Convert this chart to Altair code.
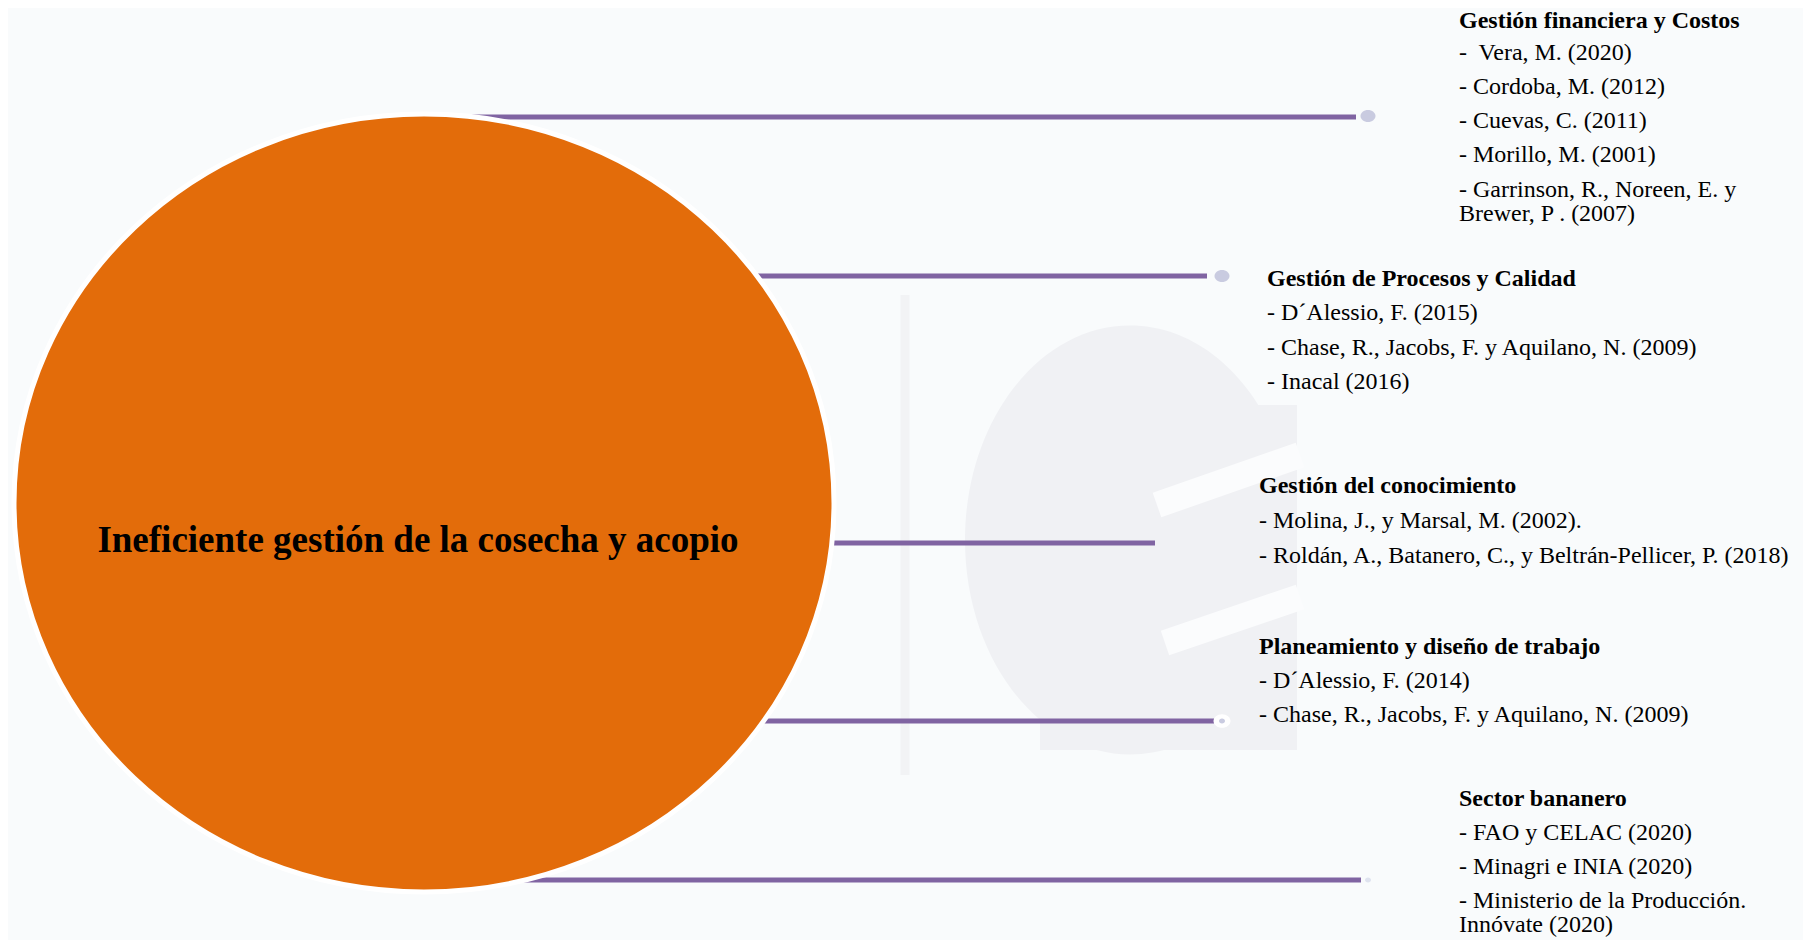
import altair as alt
import pandas as pd

# ---------------- content ----------------
center_label = "Ineficiente gestión de la cosecha y acopio"

topics = [
    "Gestión financiera y Costos",
    "Gestión de Procesos y Calidad",
    "Gestión del conocimiento",
    "Planeamiento y diseño de trabajo",
    "Sector bananero",
]
refs_1 = ["-\u00a0 Vera, M. (2020)", "- Cordoba, M. (2012)", "- Cuevas, C. (2011)",
          "- Morillo, M. (2001)", "- Garrinson, R., Noreen, E. y", "Brewer, P . (2007)"]
refs_2 = ["- D´Alessio, F. (2015)", "- Chase, R., Jacobs, F. y Aquilano, N. (2009)",
          "- Inacal (2016)"]
refs_3 = ["- Molina, J., y Marsal, M. (2002).",
          "- Roldán, A., Batanero, C., y Beltrán-Pellicer, P. (2018)"]
refs_4 = ["- D´Alessio, F. (2014)", "- Chase, R., Jacobs, F. y Aquilano, N. (2009)"]
refs_5 = ["- FAO y CELAC (2020)", "- Minagri e INIA (2020)",
          "- Ministerio de la Producción.", "Innóvate (2020)"]
refs = [refs_1, refs_2, refs_3, refs_4, refs_5]

# ---------------- layout (page pixels) ----------------
W, H = 1811, 940
block_x = [1459, 1267, 1259, 1259, 1459]
block_title_y = [21, 279, 486, 647, 799]
block_item_y = [
    [53, 87, 121, 155, 190, 214],
    [313, 348, 382],
    [521, 556],
    [681, 715],
    [833, 867, 901, 925],
]
conn_y = [117, 276, 543, 721, 880]
conn_x_end = [1356, 1207, 1155, 1214, 1361]
center_x, center_y, rx, ry = 424, 503, 410, 389

PURPLE = "#8064a2"
ORANGE = "#e36c0a"
BG = "#f9fbfc"
WM = "#f0f1f4"

PH = H - 8  # plot extends to the bottom edge of the window
X = alt.Scale(domain=[8, W - 8], range=[0, W - 16])
Y = alt.Scale(domain=[8, H], reverse=True)


def xy():
    return dict(x=alt.X("x:Q", scale=X, axis=None),
                y=alt.Y("y:Q", scale=Y, axis=None))


# ---------------- watermark ----------------
wm_line = alt.Chart(pd.DataFrame({"x": [905], "y": [295], "y2": [775]})).mark_rule(
    color="#f2f3f5", strokeWidth=9).encode(x=alt.X("x:Q", scale=X, axis=None),
                                          y=alt.Y("y:Q", scale=Y, axis=None), y2="y2:Q")
ell_path = "M-1,0 A1,1.3,0,1,0,1,0 A1,1.3,0,1,0,-1,0 Z"
wm_ell = alt.Chart(pd.DataFrame({"x": [1130], "y": [540], "s": [330 ** 2]})).mark_point(
    shape=ell_path, filled=True, color=WM, opacity=1, strokeWidth=0).encode(
    **xy(), size=alt.Size("s:Q", scale=None))
wm_rect = alt.Chart(pd.DataFrame({"x": [1130, 1040], "x2": [1297, 1297],
                                  "y": [405, 560], "y2": [750, 750]})).mark_rect(
    color=WM).encode(x=alt.X("x:Q", scale=X, axis=None), x2="x2:Q",
                     y=alt.Y("y:Q", scale=Y, axis=None), y2="y2:Q")
slits = pd.DataFrame({"g": [0, 0, 1, 1], "x": [1157, 1300, 1165, 1300],
                      "y": [505, 455, 643, 597]})
wm_slits = alt.Chart(slits).mark_line(color="#fbfcfd", strokeWidth=26).encode(
    **xy(), detail="g:N")

# ---------------- connectors ----------------
conn = pd.DataFrame({"x": [center_x] * 5, "x2": conn_x_end, "y": conn_y})
lines = alt.Chart(conn).mark_rule(color=PURPLE, strokeWidth=5).encode(
    x=alt.X("x:Q", scale=X, axis=None), x2="x2:Q", y=alt.Y("y:Q", scale=Y, axis=None))

dots = pd.DataFrame({"x": [1368, 1222, 1222, 1222, 1368],
                     "y": [116, 276, 721, 721, 880],
                     "s": [15 ** 2, 15 ** 2, 17 ** 2, 6 ** 2, 6 ** 2],
                     "c": ["#c9cbe0", "#c9cbe0", "#ffffff", "#c9cbe0", "#dfe3ef"]})
dot_path = "M-1,0 A1,0.8,0,1,0,1,0 A1,0.8,0,1,0,-1,0 Z"
dot_layer = alt.Chart(dots).mark_point(shape=dot_path, filled=True, opacity=1,
                                       strokeWidth=0).encode(
    **xy(), size=alt.Size("s:Q", scale=None), color=alt.Color("c:N", scale=None))

# ---------------- central ellipse ----------------
ratio = ry / rx
big_path = f"M-1,0 A1,{ratio:.4f},0,1,0,1,0 A1,{ratio:.4f},0,1,0,-1,0 Z"
circle = alt.Chart(pd.DataFrame({"x": [center_x], "y": [center_y],
                                 "s": [(2 * rx) ** 2]})).mark_point(
    shape=big_path, filled=True, fill=ORANGE, opacity=1, stroke="white",
    strokeWidth=5, strokeOpacity=1).encode(**xy(), size=alt.Size("s:Q", scale=None))

center_text = alt.Chart(pd.DataFrame({"x": [418], "y": [541], "t": [center_label]})).mark_text(
    font="Liberation Serif", fontSize=37, fontWeight="bold", color="black",
    align="center", baseline="middle").encode(**xy(), text="t:N")

# ---------------- labels ----------------
title_rows = pd.DataFrame({"x": block_x, "y": block_title_y, "t": topics})
item_rows = []
for bx, ys, its in zip(block_x, block_item_y, refs):
    for yy, tt in zip(ys, its):
        item_rows.append({"x": bx, "y": yy, "t": tt})
item_rows = pd.DataFrame(item_rows)

titles = alt.Chart(title_rows).mark_text(
    font="Liberation Serif", fontSize=24, fontWeight="bold", color="black",
    align="left", baseline="middle").encode(**xy(), text="t:N")
items = alt.Chart(item_rows).mark_text(
    font="Liberation Serif", fontSize=24, color="black",
    align="left", baseline="middle").encode(**xy(), text="t:N")

chart = alt.layer(
    wm_line, wm_ell, wm_rect, wm_slits, lines, dot_layer, circle, center_text, titles, items
).properties(
    width=W - 16, height=PH, padding=0, autosize=alt.AutoSizeParams(type="none"),
    background=BG,
).configure_view(stroke=None)

chart.save("out.html", embed_options={"renderer": "svg", "actions": False})
